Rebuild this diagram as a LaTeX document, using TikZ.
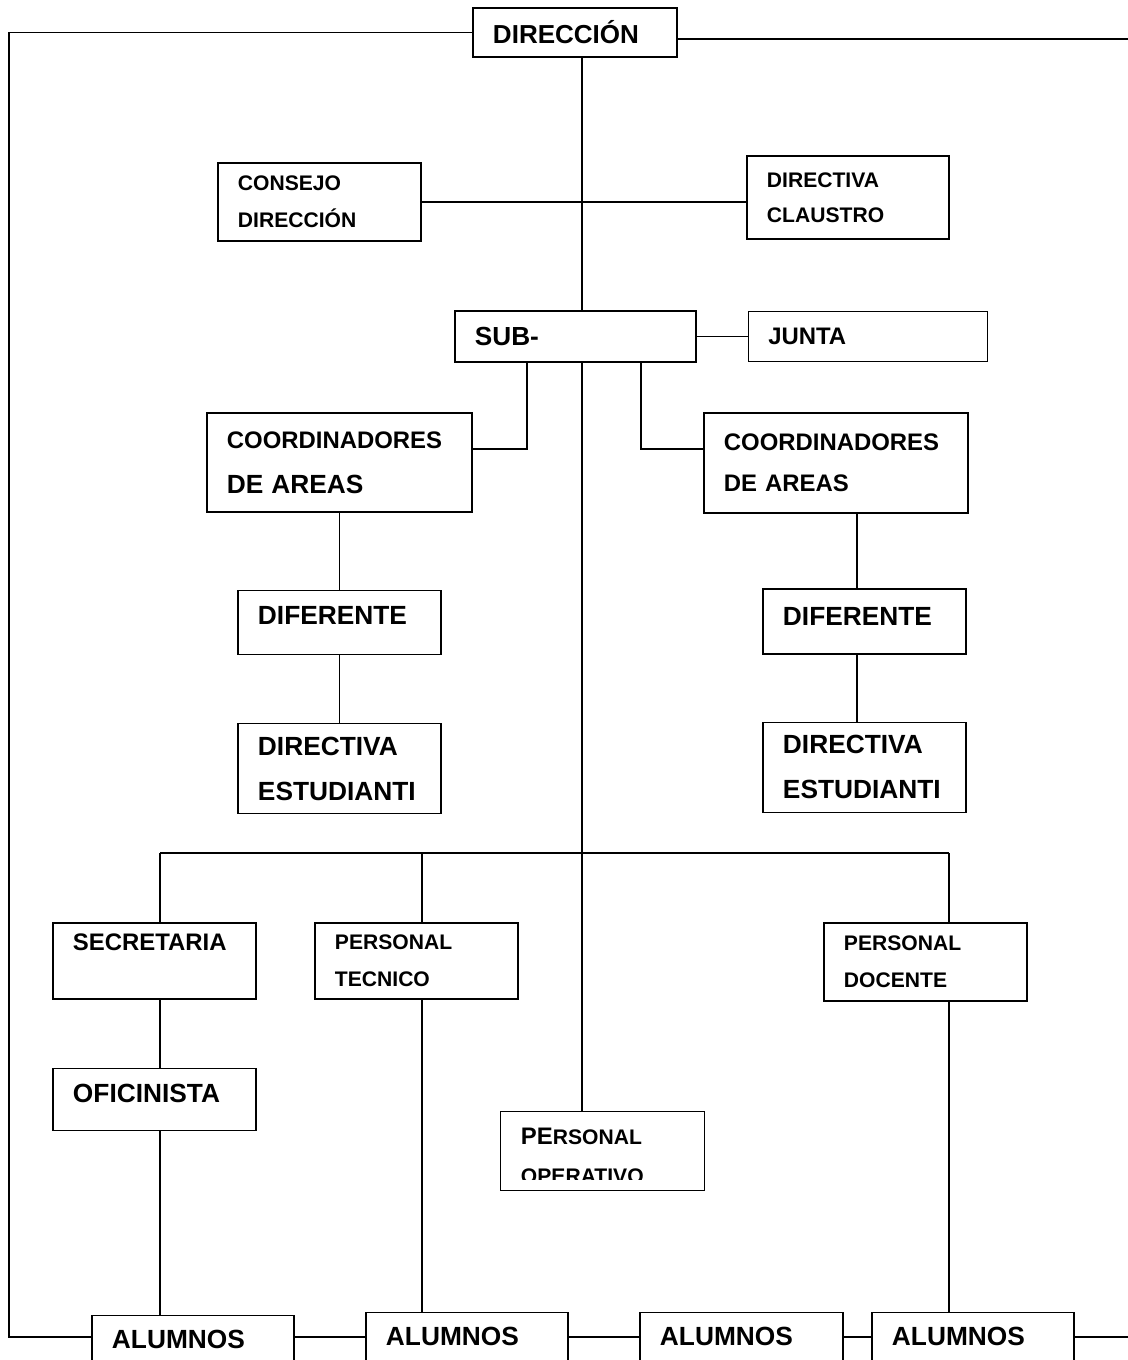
\documentclass[tikz,border=0pt]{standalone}
\usepackage{fontspec}
\setmainfont{Liberation Sans}
\usepackage{tikz}
\usetikzlibrary{positioning}
\tikzset{
  orgbox/.style={
    rectangle, draw=black, line width=0.9pt, fill=white,
    align=left, inner xsep=0.5cm, inner ysep=0pt,
    text width=4.075cm
  },
  coordbox/.style={orgbox, text width=5.6cm},
  subbox/.style={orgbox, text width=5.0cm},
  txtbig/.style={font=\fontsize{18.7}{32}\selectfont\bfseries},
  txtmid/.style={font=\fontsize{17}{29}\selectfont\bfseries},
  txtsmall/.style={font=\fontsize{15}{26}\selectfont\bfseries},
  link/.style={line width=1.2pt, color=black},
}

\begin{document}
\begin{tikzpicture}[x=0.025cm, y=-0.025cm]
  \path[use as bounding box] (0,0) rectangle (1128,1360);
  \clip (0,0) rectangle (1128,1360);

  % top
  \node[orgbox, font=\fontsize{18.5}{22}\selectfont\bfseries, text width=4.1cm, minimum height=1.225cm] (dir) at (575,32.5) {DIRECCIÓN};
  \node[orgbox, txtsmall, minimum height=1.95cm] (consejo) at (319.5,202) {CONSEJO\\DIRECCIÓN};
  \node[orgbox, font=\fontsize{15}{25}\selectfont\bfseries, text width=4.05cm, minimum height=2.075cm] (claustro) at (848,197.5) {DIRECTIVA\\CLAUSTRO};
  \node[subbox, font=\fontsize{18.6}{22}\selectfont\bfseries, text width=5.025cm, minimum height=1.275cm] (sub) at (575.5,336.5) {SUB-};
  \node[subbox, txtmid, text width=4.975cm, minimum height=1.25cm, right=1.275cm of sub] (junta) {JUNTA};

  % areas
  \node[coordbox, font=\fontsize{17}{32}\selectfont\bfseries, text width=5.625cm, minimum height=2.475cm] (coordL) at (339.5,462.5) {COORDINADORES\\{\fontsize{18.7}{32}\selectfont DE AREAS}};
  \node[coordbox, txtmid, minimum height=2.5cm] (coordR) at (836,463) {COORDINADORES\\DE AREAS};
  \node[orgbox, txtbig, text depth=10pt, minimum height=1.6cm, below=1.925cm of coordL] (diffL) {DIFERENTE};
  \node[orgbox, txtbig, minimum height=2.25cm, below=1.7cm of diffL] (estL) {DIRECTIVA\\ESTUDIANTI};
  \node[orgbox, txtbig, text depth=7pt, minimum height=1.625cm] (diffR) at (864.5,621.5) {DIFERENTE};
  \node[orgbox, txtbig, minimum height=2.25cm, below=1.675cm of diffR] (estR) {DIRECTIVA\\ESTUDIANTI};

  % staff
  \node[orgbox, font=\fontsize{17}{26.3}\selectfont\bfseries, minimum height=1.9cm] (secr) at (154.5,961) {SECRETARIA\\\mbox{}};
  \node[orgbox, font=\fontsize{15}{26.3}\selectfont\bfseries, minimum height=1.9cm] (tec) at (416.5,961) {PERSONAL\\TECNICO};
  \node[orgbox, font=\fontsize{15}{26.3}\selectfont\bfseries, minimum height=1.95cm] (doc) at (925.5,962) {PERSONAL\\DOCENTE};
  \node[orgbox, txtbig, text depth=8pt, minimum height=1.55cm, below=1.7cm of secr] (ofi) {OFICINISTA};
  \begin{scope}
    \clip (0,0) rectangle (1128,1179);
    \node[orgbox, draw=none, font=\fontsize{15}{28}\selectfont\bfseries, text height=18.6pt, minimum height=1.95cm] (oper) at (602.5,1151) {{\fontsize{17}{28}\selectfont PE}RSONAL\\OPERATIVO};
  \end{scope}
  \draw[line width=0.9pt] (oper.north west) -- (oper.north east) -- (oper.south east) -- (oper.south west) -- cycle;

  % students
  \node[orgbox, txtbig, text width=4.05cm, minimum height=2.325cm, anchor=north] (alum1) at (193,1315) {ALUMNOS\\\mbox{}};
  \node[orgbox, txtbig, text width=4.05cm, minimum height=2.325cm, anchor=north] (alum2) at (467,1312) {ALUMNOS\\\mbox{}};
  \node[orgbox, txtbig, minimum height=2.325cm, anchor=north] (alum3) at (741.5,1312) {ALUMNOS\\\mbox{}};
  \node[orgbox, txtbig, text width=4.05cm, minimum height=2.325cm, anchor=north] (alum4) at (973,1312) {ALUMNOS\\\mbox{}};

  \coordinate (topR) at (1128,39);
  \coordinate (lane) at (9,1337);
  \coordinate (laneR) at (1128,1337);
  \coordinate (trunk) at (582,853);
  \coordinate (bl) at (527,449);
  \coordinate (br) at (641,449);
  \coordinate (colS) at (160,853);
  \coordinate (colT) at (422,853);
  \coordinate (colD) at (949,853);
  \coordinate (colR) at (857,513);

  \draw[link] (dir.west) -| (lane) -- (lane -| alum1.west);
  \draw[link] (dir.east |- topR) -- (topR);
  \draw[link] (dir.south -| trunk) -- (sub.north -| trunk);
  \draw[link] (consejo.east) -- (consejo.east -| claustro.west);
  \draw[link] (sub.east) -- (junta.west);
  \draw[link] (sub.south -| bl) |- (coordL.east |- bl);
  \draw[link] (sub.south -| br) |- (coordR.west |- br);
  \draw[link] (sub.south -| trunk) -- (oper.north -| trunk);
  \draw[link] (coordL.south) -- (diffL.north);
  \draw[link] (diffL.south) -- (estL.north);
  \draw[link] (coordR.south -| colR) -- (diffR.north -| colR);
  \draw[link] (diffR.south -| colR) -- (estR.north -| colR);
  \draw[link] (colS) -- (colD);
  \draw[link] (colS) -- (colS |- secr.north);
  \draw[link] (colT) -- (colT |- tec.north);
  \draw[link] (colD) -- (colD |- doc.north);
  \draw[link] (secr.south -| colS) -- (ofi.north -| colS);
  \draw[link] (ofi.south -| colS) -- (alum1.north -| colS);
  \draw[link] (tec.south -| colT) -- (alum2.north -| colT);
  \draw[link] (doc.south -| colD) -- (alum4.north -| colD);
  \draw[link] (alum1.east |- lane) -- (alum2.west |- lane);
  \draw[link] (alum2.east |- lane) -- (alum3.west |- lane);
  \draw[link] (alum3.east |- lane) -- (alum4.west |- lane);
  \draw[link] (alum4.east |- lane) -- (laneR);
\end{tikzpicture}
\end{document}
